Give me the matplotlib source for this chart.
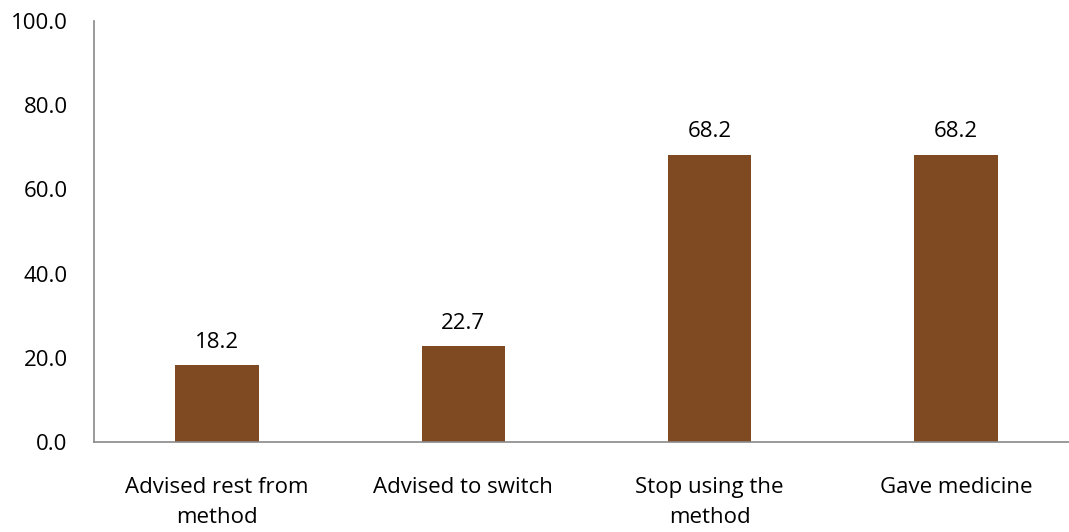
import matplotlib.pyplot as plt
import numpy as np

categories = ['Advised rest from\nmethod', 'Advised to switch', 'Stop using the\nmethod', 'Gave medicine']
values = [18.2, 22.7, 68.2, 68.2]
yticks = [0, 20, 40, 60, 80, 100]

plt.rcParams['font.family'] = ['Open Sans', 'DejaVu Sans']
fs = 16

fig = plt.figure(figsize=(10.69, 5.32), dpi=100)
# axes run slightly past the right edge, as in the source layout
ax = fig.add_axes([94 / 1069, 1 - 442 / 532, 985 / 1069, 421 / 532])

x = np.arange(len(categories))
bars = ax.bar(x, values, width=0.34, color='#7F4A22')
for xi, v in zip(x, values):
    ax.text(xi, v + 3.0, f'{v:.1f}', ha='center', va='bottom', fontsize=fs)

ax.set_xlim(-0.5, 3.5)
ax.set_ylim(0, 100)
ax.set_yticks(yticks)
ax.set_yticklabels([f'{t:.1f}' for t in yticks], fontsize=fs)
ax.set_xticks(x)
ax.set_xticklabels(categories, fontsize=fs, linespacing=1.55, va='top')
ax.tick_params(axis='y', length=0, pad=19)
ax.tick_params(axis='x', length=0, pad=25)

for s in ['top', 'right']:
    ax.spines[s].set_visible(False)
for s in ['left', 'bottom']:
    ax.spines[s].set_color('#898989')
    ax.spines[s].set_linewidth(1.2)

fig.savefig('out.png', dpi=100)
